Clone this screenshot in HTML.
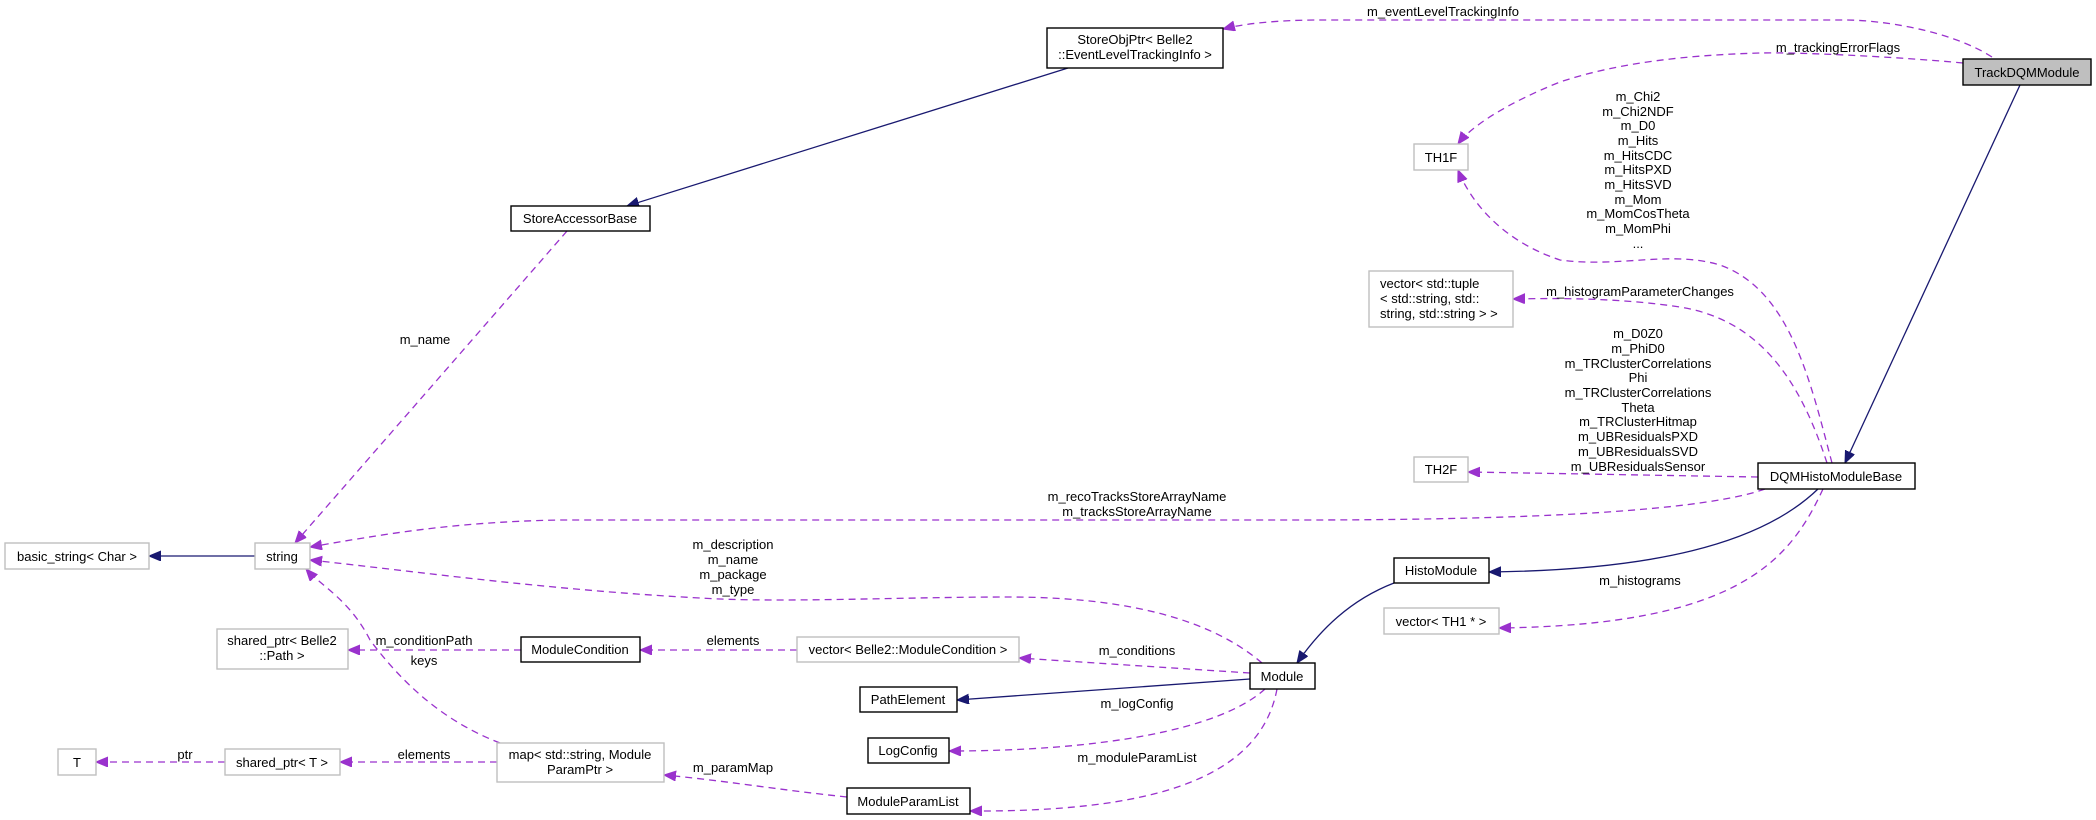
<!DOCTYPE html>
<html><head><meta charset="utf-8">
<style>
html,body{margin:0;padding:0;background:#fff;}
svg{display:block;}
text{font-family:"Liberation Sans",Arial,sans-serif;font-size:13px;fill:#000;}
.n{fill:#fff;stroke:#000;stroke-width:1.4;}
.g{fill:#fff;stroke:#bfbfbf;stroke-width:1.4;}
.s{fill:none;stroke:#191970;stroke-width:1.3;}
.d{fill:none;stroke:#9a32cd;stroke-width:1.3;stroke-dasharray:7,5;}
</style></head>
<body>
<svg width="2096" height="820" viewBox="0 0 2096 820" xmlns="http://www.w3.org/2000/svg">
<defs>
<marker id="an" markerUnits="userSpaceOnUse" markerWidth="14" markerHeight="12" refX="12" refY="5" orient="auto"><path d="M0,0 L12,5 L0,10 Z" fill="#191970" stroke="#191970"/></marker>
<marker id="ap" markerUnits="userSpaceOnUse" markerWidth="14" markerHeight="12" refX="12" refY="5" orient="auto"><path d="M0,0 L12,5 L0,10 Z" fill="#9a32cd" stroke="#9a32cd"/></marker>
</defs>

<!-- edges -->
<path class="d" marker-end="url(#ap)" d="M1992,57 C1950,30 1880,20 1846,20 L1320,20 C1290,20 1250,22 1223,29"/>
<path class="d" marker-end="url(#ap)" d="M1963,63 C1900,57 1800,52 1760,53 C1690,55 1620,62 1560,82 C1510,102 1472,125 1458,144"/>
<path class="s" marker-end="url(#an)" d="M2020,85 L1845,463"/>
<path class="s" marker-end="url(#an)" d="M1068,68 L627,206"/>
<path class="d" marker-end="url(#ap)" d="M567,231 L295,543"/>
<path class="d" marker-end="url(#ap)" d="M1832,463 C1810,380 1790,290 1720,265 C1670,250 1620,268 1560,260 C1500,240 1470,200 1458,170"/>
<path class="d" marker-end="url(#ap)" d="M1827,463 C1800,380 1760,320 1680,307 C1620,298 1560,298 1513,299"/>
<path class="d" marker-end="url(#ap)" d="M1758,477 L1468,472"/>
<path class="d" marker-end="url(#ap)" d="M1765,489 C1720,505 1600,520 1300,520 L560,520 C450,522 380,535 310,547"/>
<path class="s" marker-end="url(#an)" d="M1818,489 C1760,545 1650,570 1489,572"/>
<path class="d" marker-end="url(#ap)" d="M1823,489 C1790,560 1740,625 1499,628"/>
<path class="s" marker-end="url(#an)" d="M1394,583 C1350,600 1320,630 1297,663"/>
<path class="s" marker-end="url(#an)" d="M1250,679 L957,700"/>
<path class="d" marker-end="url(#ap)" d="M1250,673 L1019,658"/>
<path class="d" marker-end="url(#ap)" d="M1265,689 C1220,730 1100,751 949,751"/>
<path class="d" marker-end="url(#ap)" d="M1277,689 C1260,780 1150,812 970,811"/>
<path class="d" marker-end="url(#ap)" d="M1262,663 C1200,610 1100,597 1008,597 C900,597 780,603 700,598 C550,590 420,572 310,560"/>
<path class="d" marker-end="url(#ap)" d="M797,650 L640,650"/>
<path class="d" marker-end="url(#ap)" d="M521,650 L348,650"/>
<path class="d" marker-end="url(#ap)" d="M500,743 C440,720 400,680 370,640 C350,600 320,585 306,569"/>
<path class="d" marker-end="url(#ap)" d="M497,762 L340,762"/>
<path class="d" marker-end="url(#ap)" d="M225,762 L96,762"/>
<path class="d" marker-end="url(#ap)" d="M847,797 C780,790 720,780 664,775"/>
<path class="s" marker-end="url(#an)" d="M255,556 L149,556"/>

<!-- nodes -->
<rect x="1963" y="59" width="128" height="26" fill="#bfbfbf" stroke="#000" stroke-width="1.4"/>
<text x="2027" y="77" text-anchor="middle">TrackDQMModule</text>

<rect class="n" x="1047" y="28" width="176" height="40"/>
<text x="1135" y="44" text-anchor="middle">StoreObjPtr&lt; Belle2</text>
<text x="1135" y="59" text-anchor="middle">::EventLevelTrackingInfo &gt;</text>

<rect class="n" x="511" y="206" width="139" height="25"/>
<text x="580" y="223" text-anchor="middle">StoreAccessorBase</text>

<rect class="g" x="1414" y="144" width="54" height="26"/>
<text x="1441" y="162" text-anchor="middle">TH1F</text>

<rect class="g" x="1369" y="271" width="144" height="56"/>
<text x="1380" y="288">vector&lt; std::tuple</text>
<text x="1380" y="303">&lt; std::string, std::</text>
<text x="1380" y="318">string, std::string &gt; &gt;</text>

<rect class="g" x="1414" y="457" width="54" height="25"/>
<text x="1441" y="474" text-anchor="middle">TH2F</text>

<rect class="n" x="1758" y="463" width="157" height="26"/>
<text x="1836" y="481" text-anchor="middle">DQMHistoModuleBase</text>

<rect class="n" x="1394" y="558" width="95" height="25"/>
<text x="1441" y="575" text-anchor="middle">HistoModule</text>

<rect class="g" x="1384" y="608" width="115" height="26"/>
<text x="1441" y="626" text-anchor="middle">vector&lt; TH1 * &gt;</text>

<rect class="n" x="1250" y="663" width="65" height="26"/>
<text x="1282" y="681" text-anchor="middle">Module</text>

<rect class="g" x="797" y="637" width="222" height="25"/>
<text x="908" y="654" text-anchor="middle">vector&lt; Belle2::ModuleCondition &gt;</text>

<rect class="n" x="860" y="687" width="97" height="25"/>
<text x="908" y="704" text-anchor="middle">PathElement</text>

<rect class="n" x="868" y="738" width="81" height="25"/>
<text x="908" y="755" text-anchor="middle">LogConfig</text>

<rect class="n" x="847" y="788" width="123" height="26"/>
<text x="908" y="806" text-anchor="middle">ModuleParamList</text>

<rect class="n" x="521" y="637" width="119" height="25"/>
<text x="580" y="654" text-anchor="middle">ModuleCondition</text>

<rect class="g" x="217" y="629" width="131" height="40"/>
<text x="282" y="645" text-anchor="middle">shared_ptr&lt; Belle2</text>
<text x="282" y="660" text-anchor="middle">::Path &gt;</text>

<rect class="g" x="5" y="543" width="144" height="26"/>
<text x="77" y="561" text-anchor="middle">basic_string&lt; Char &gt;</text>

<rect class="g" x="255" y="543" width="55" height="26"/>
<text x="282" y="561" text-anchor="middle">string</text>

<rect class="g" x="58" y="749" width="38" height="26"/>
<text x="77" y="767" text-anchor="middle">T</text>

<rect class="g" x="225" y="749" width="115" height="26"/>
<text x="282" y="767" text-anchor="middle">shared_ptr&lt; T &gt;</text>

<rect class="g" x="497" y="743" width="167" height="39"/>
<text x="580" y="759" text-anchor="middle">map&lt; std::string, Module</text>
<text x="580" y="774" text-anchor="middle">ParamPtr &gt;</text>

<!-- labels -->
<g text-anchor="middle">
<text x="1443" y="16">m_eventLevelTrackingInfo</text>
<text x="1838" y="52">m_trackingErrorFlags</text>
<text x="1638" y="101">m_Chi2</text>
<text x="1638" y="116">m_Chi2NDF</text>
<text x="1638" y="130">m_D0</text>
<text x="1638" y="145">m_Hits</text>
<text x="1638" y="160">m_HitsCDC</text>
<text x="1638" y="174">m_HitsPXD</text>
<text x="1638" y="189">m_HitsSVD</text>
<text x="1638" y="204">m_Mom</text>
<text x="1638" y="218">m_MomCosTheta</text>
<text x="1638" y="233">m_MomPhi</text>
<text x="1638" y="248">...</text>
<text x="1640" y="296">m_histogramParameterChanges</text>
<text x="1638" y="338">m_D0Z0</text>
<text x="1638" y="353">m_PhiD0</text>
<text x="1638" y="368">m_TRClusterCorrelations</text>
<text x="1638" y="382">Phi</text>
<text x="1638" y="397">m_TRClusterCorrelations</text>
<text x="1638" y="412">Theta</text>
<text x="1638" y="426">m_TRClusterHitmap</text>
<text x="1638" y="441">m_UBResidualsPXD</text>
<text x="1638" y="456">m_UBResidualsSVD</text>
<text x="1638" y="471">m_UBResidualsSensor</text>
<text x="1137" y="501">m_recoTracksStoreArrayName</text>
<text x="1137" y="516">m_tracksStoreArrayName</text>
<text x="1640" y="585">m_histograms</text>
<text x="425" y="344">m_name</text>
<text x="733" y="549">m_description</text>
<text x="733" y="564">m_name</text>
<text x="733" y="579">m_package</text>
<text x="733" y="594">m_type</text>
<text x="733" y="645">elements</text>
<text x="1137" y="655">m_conditions</text>
<text x="1137" y="708">m_logConfig</text>
<text x="1137" y="762">m_moduleParamList</text>
<text x="733" y="772">m_paramMap</text>
<text x="424" y="645">m_conditionPath</text>
<text x="424" y="665">keys</text>
<text x="185" y="759">ptr</text>
<text x="424" y="759">elements</text>
</g>
</svg>
</body></html>
